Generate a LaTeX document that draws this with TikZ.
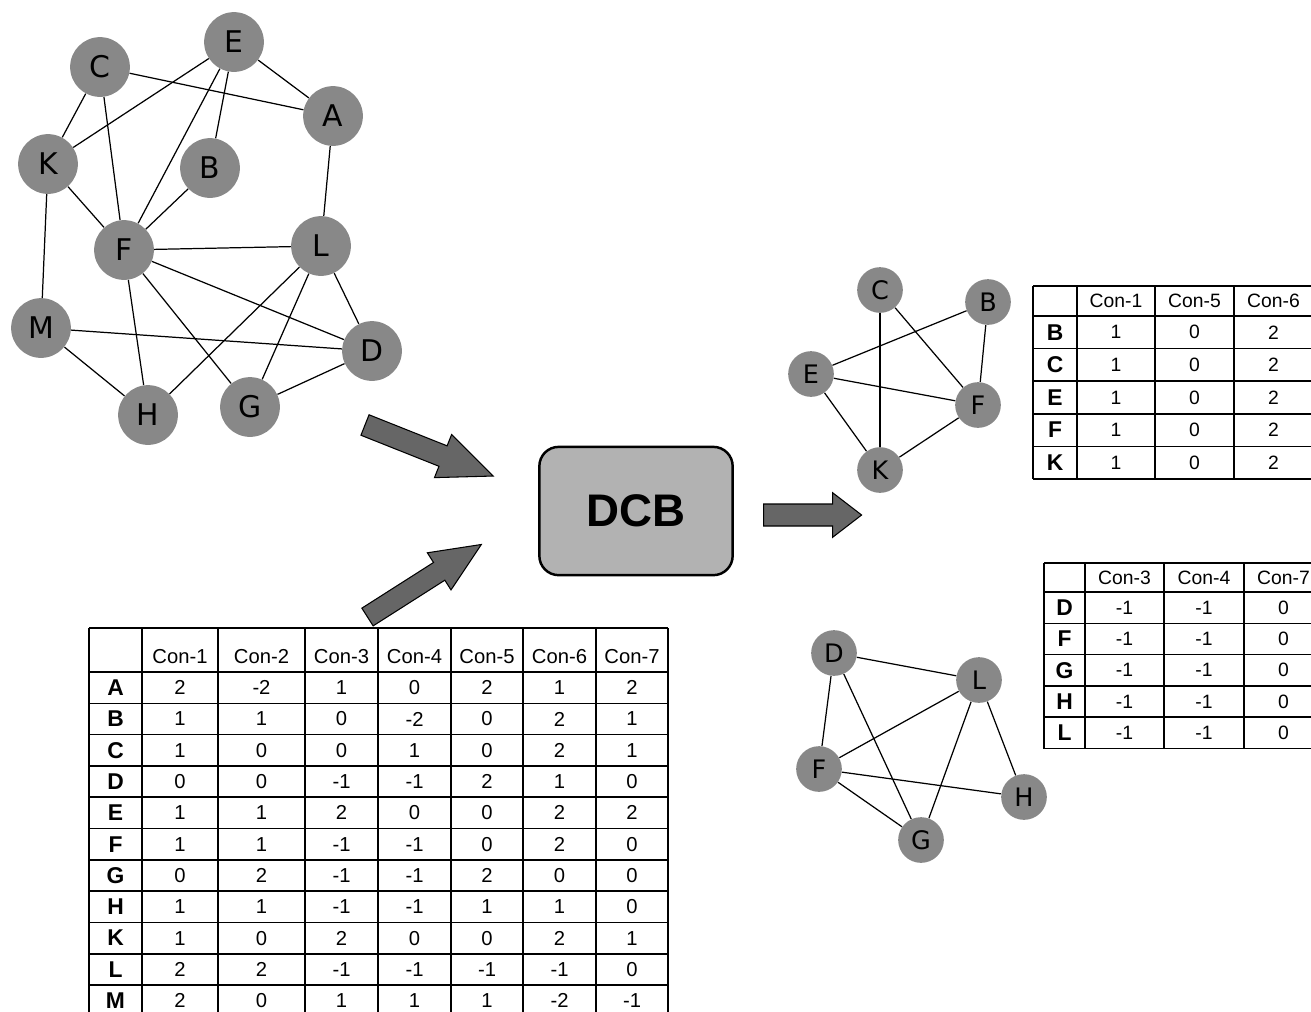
\documentclass[tikz,border=0pt]{standalone}
\usepackage{fontspec}
\setmainfont{Liberation Sans}
\newfontfamily\vtxfont{DejaVu Sans}
\usetikzlibrary{positioning}
\definecolor{vtxgray}{RGB}{136,136,136}
\definecolor{boxgray}{RGB}{178,178,178}
\definecolor{arrgray}{RGB}{102,102,102}

\begin{document}
\begin{tikzpicture}[x=0.2mm,y=-0.2mm,
    vtx/.style={circle,fill=vtxgray,inner sep=0pt,minimum size=34pt,
                font=\vtxfont\fontsize{17}{17}\selectfont},
    svtx/.style={circle,fill=vtxgray,inner sep=0pt,minimum size=26pt,
                 font=\vtxfont\fontsize{14.5}{14.5}\selectfont},
    lnk/.style={line width=0.7pt},
    bigarrow/.style={fill=arrgray,draw=black,line width=0.6pt},
    tabline/.style={line width=0.9pt},
    cell/.style={inner sep=0pt,font=\fontsize{11.5}{11.5}\selectfont},
    scell/.style={inner sep=0pt,font=\fontsize{11}{11}\selectfont},
    rowlab/.style={inner sep=0pt,font=\bfseries\fontsize{13}{13}\selectfont},
    dcbbox/.style={draw,line width=1.4pt,fill=boxgray,rounded corners=11pt,
                   minimum width=110pt,minimum height=73pt,
                   font=\bfseries\fontsize{26}{26}\selectfont}]
\useasboundingbox (0,0) rectangle (1311,1011);

% whole network
\node[vtx] (C) at (100,67) {C};
\node[vtx] (E) at (234,42) {E};
\node[vtx] (A) at (333,116) {A};
\node[vtx] (K) at (48,164) {K};
\node[vtx] (B) at (210,168) {B};
\node[vtx] (F) at (124,250) {F};
\node[vtx] (L) at (321,246) {L};
\node[vtx] (M) at (41,328) {M};
\node[vtx] (D) at (372,351) {D};
\node[vtx] (H) at (148,415) {H};
\node[vtx] (G) at (250,407) {G};
\path[lnk] (C) edge (A) edge (K) edge (F)
      (E) edge (A) edge (K) edge (F) edge (B)
      (K) edge (F) edge (M)
      (B) edge (F)
      (A) edge (L)
      (F) edge (L) edge (D) edge (H) edge (G)
      (L) edge (H) edge (G) edge (D)
      (M) edge (D) edge (H)
      (D) edge (G);

% first module
\node[svtx] (s1C) at (880,290) {C};
\node[svtx] (s1B) at (988,302) {B};
\node[svtx] (s1E) at (811,374) {E};
\node[svtx] (s1F) at (978,405) {F};
\node[svtx] (s1K) at (880,470) {K};
\path[lnk] (s1E) edge (s1B) edge (s1F) edge (s1K)
      (s1C) edge (s1K) edge (s1F)
      (s1B) edge (s1F)
      (s1K) edge (s1F);

% second module
\node[svtx] (s2D) at (834,653) {D};
\node[svtx] (s2L) at (979,680) {L};
\node[svtx] (s2F) at (819,769) {F};
\node[svtx] (s2H) at (1024,797) {H};
\node[svtx] (s2G) at (921,840) {G};
\path[lnk] (s2D) edge (s2L) edge (s2F) edge (s2G)
      (s2L) edge (s2F) edge (s2G) edge (s2H)
      (s2F) edge (s2H) edge (s2G);

% DCB and arrows
\node[dcbbox] (dcb) at (636,511) {DCB};
\foreach \x/\y/\a/\len/\hl/\hw/\sw in {365/425/-21.7/138/54/23.2/11,
    367.5/617/32.5/135/50/22/10.5, 763.6/515/0/98/29/22.3/11}
  \draw[bigarrow,shift={(\x,\y)},rotate=\a] (0,-\sw) -- ({\len-\hl},-\sw)
    -- ({\len-\hl},-\hw) -- (\len,0) -- ({\len-\hl},\hw) -- ({\len-\hl},\sw)
    -- (0,\sw) -- cycle;

% big table
\def\mcols{{180,261.5,341.5,414.5,487,559.5,632}}
\draw[tabline] (89,628) -- (668,628);
\foreach \k in {0,...,11}
  \draw[tabline] (89,{672+31.3*\k}) -- (668,{672+31.3*\k});
\foreach \x in {89,142,218,305,378,451,523,596,668}
  \draw[tabline] (\x,628) -- (\x,1016);
\foreach \c in {1,...,7} {
  \pgfmathsetmacro\xc{\mcols[\c-1]}
  \node[cell] (mh\c) at (\xc,657) {Con-\c};
}
\foreach \lab/\vals [count=\r] in {A/{2,-2,1,0,2,1,2}, B/{1,1,0,-2,0,2,1},
    C/{1,0,0,1,0,2,1}, D/{0,0,-1,-1,2,1,0}, E/{1,1,2,0,0,2,2},
    F/{1,1,-1,-1,0,2,0}, G/{0,2,-1,-1,2,0,0}, H/{1,1,-1,-1,1,1,0},
    K/{1,0,2,0,0,2,1}, L/{2,2,-1,-1,-1,-1,0}, M/{2,0,1,1,1,-2,-1}} {
  \node[rowlab] (m\r) at (115.5,{672+31.3*(\r-0.5)}) {\lab};
  \foreach \v [count=\c] in \vals {
    \pgfmathsetmacro\xc{\mcols[\c-1]}
    \node[cell] (m\r-\c) at (\xc,{672+31.3*(\r-0.5)}) {\v};
  }
}

% table of first module
\draw[tabline] (1033,286) -- (1313,286);
\foreach \k in {0,...,5}
  \draw[tabline] (1033,{316+32.6*\k}) -- (1313,{316+32.6*\k});
\foreach \x in {1033,1077,1155,1234,1313}
  \draw[tabline] (\x,286) -- (\x,479);
\foreach \h/\x in {1/1116,5/1194.5,6/1273.5}
  \node[scell] (ah\h) at (\x,301) {Con-\h};
\foreach \lab [count=\r] in {B,C,E,F,K} {
  \node[rowlab] (a\r) at (1055,{316+32.6*(\r-0.5)}) {\lab};
  \foreach \v/\x [count=\c] in {1/1116,0/1194.5,2/1273.5}
    \node[scell] (a\r-\c) at (\x,{316+32.6*(\r-0.5)}) {\v};
}

% table of second module
\draw[tabline] (1044,563) -- (1323,563);
\foreach \k in {0,...,5}
  \draw[tabline] (1044,{592+31.3*\k}) -- (1323,{592+31.3*\k});
\foreach \x in {1044,1085,1164,1244,1323}
  \draw[tabline] (\x,563) -- (\x,748.5);
\foreach \h/\x in {3/1124.5,4/1204,7/1283.5}
  \node[scell] (bh\h) at (\x,578) {Con-\h};
\foreach \lab [count=\r] in {D,F,G,H,L} {
  \node[rowlab] (b\r) at (1064.5,{592+31.3*(\r-0.5)}) {\lab};
  \foreach \v/\x [count=\c] in {-1/1124.5,-1/1204,0/1283.5}
    \node[scell] (b\r-\c) at (\x,{592+31.3*(\r-0.5)}) {\v};
}
\end{tikzpicture}
\end{document}
